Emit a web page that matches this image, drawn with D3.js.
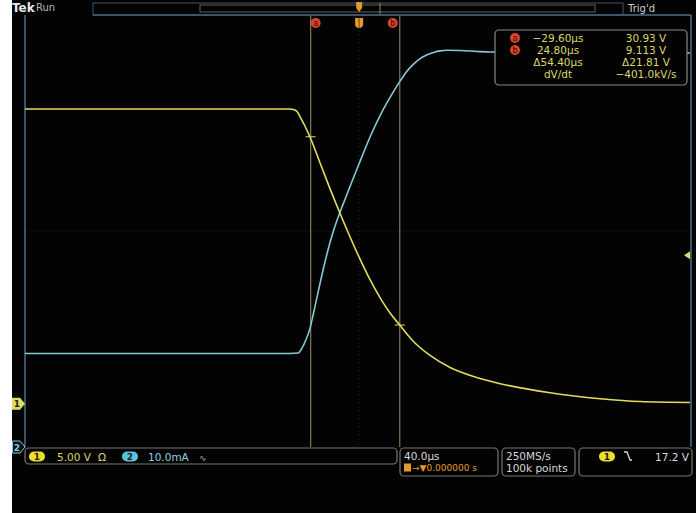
<!DOCTYPE html>
<html><head><meta charset="utf-8">
<script src="https://cdn.jsdelivr.net/npm/d3@7"></script>
<style>
html,body{margin:0;padding:0;background:#fff;}
svg{display:block;}
text{font-family:"DejaVu Sans",sans-serif;}
</style></head>
<body>
<svg id="c" width="696" height="513"></svg>
<script>
// ---- data ----
// Channel 1 (yellow, volts) vs time (µs)
const ch1Time = [-204, -42.2, -40.2, -37.9, -36.1, -33.1, -30.0, -23.9, -17.8, -11.7, -5.6, 0.55, 6.65, 12.76, 18.86, 24.8, 32.9, 43.3, 55.5, 70.8, 86.1, 116.6, 147.2, 171.6, 202];
const ch1Volts = [34.14, 34.14, 34.1, 33.86, 33.26, 32.18, 30.9, 27.93, 24.92, 22.07, 19.35, 16.75, 14.37, 12.29, 10.5, 9.11, 7.27, 5.59, 4.2, 3.1, 2.32, 1.27, 0.58, 0.25, 0.14];
// Channel 2 (cyan, mA) vs time (µs)
const ch2Time = [-204, -42.2, -37.3, -34.9, -32.4, -30.0, -28.1, -25.9, -23.9, -21.9, -19.6, -17.8, -14.7, -11.7, -8.0, -4.3, -0.7, 4.6, 8.5, 12.8, 16.4, 20.7, 25.0, 28.6, 32.9, 37.2, 41.5, 45.8, 49.4, 53.7, 61.6, 72.0, 79.9, 202];
const ch2mA = [21.67, 21.67, 21.78, 22.9, 24.9, 27.5, 30.6, 34.4, 37.9, 41.2, 44.8, 47.4, 51.2, 54.4, 58.0, 61.6, 65.0, 70.0, 73.4, 76.8, 79.4, 82.2, 84.8, 86.8, 88.6, 90.0, 90.9, 91.5, 91.8, 91.94, 91.89, 91.66, 91.54, 91.31];
// cursors (µs)
const cursorTimes = [-29.6, 24.8];
const cursorNames = ["a", "b"];
const cursorVolts = [30.93, 9.113];
const triggerLevel = 17.2;
// readout texts
const readLeft = ["\u221229.60\u00b5s", "24.80\u00b5s", "\u039454.40\u00b5s", "dV/dt"];
const readRight = ["30.93 V", "9.113 V", "\u039421.81 V", "\u2212401.0kV/s"];
const ch1Label = "5.00 V", ch2Label = "10.0mA";
const horizLabel = "40.0\u00b5s", delayLabel = "0.000000 s";
const rateLabels = ["250MS/s", "100k points"];
const trigLabel = "17.2 V";

// ---- scales ----
const x = d3.scaleLinear().domain([-204, 202]).range([25, 690]);
const yV = d3.scaleLinear().domain([0, 50]).range([403.7, 403.7 - 431.5]);
const yI = d3.scaleLinear().domain([0, 100]).range([447, 447 - 431.5]);

const svg = d3.select("#c");
const YEL = "#e2dc5e", CYAN = "#86c9d6", FRAME = "#4f6f8c", CUR = "#7f7c55", TXT = "#d9d66a";

svg.append("rect").attr("x", 0).attr("y", 0).attr("width", 696).attr("height", 513).attr("fill", "#fff");
svg.append("rect").attr("x", 12).attr("y", 0).attr("width", 684).attr("height", 513).attr("fill", "#030303");

// faint graticule centre lines
const gx0 = 25, gx1 = 691, gy0 = 15, gy1 = 447;
svg.append("line").attr("x1", gx0).attr("x2", gx1).attr("y1", 231).attr("y2", 231)
  .attr("stroke", "#2a2a22").attr("stroke-dasharray", "1,3");
svg.append("line").attr("x1", x(0)).attr("x2", x(0)).attr("y1", gy0).attr("y2", gy1)
  .attr("stroke", "#2a2a22").attr("stroke-dasharray", "1,3");

// frame
svg.append("line").attr("x1", 93).attr("x2", gx1).attr("y1", gy0).attr("y2", gy0).attr("stroke", FRAME).attr("stroke-width", 1.5);
svg.append("line").attr("x1", gx0).attr("x2", gx0).attr("y1", gy0).attr("y2", gy1).attr("stroke", FRAME).attr("stroke-width", 1.5);
svg.append("line").attr("x1", gx1).attr("x2", gx1).attr("y1", gy0).attr("y2", gy1).attr("stroke", FRAME).attr("stroke-width", 1.5);

// top bar
svg.append("text").attr("x", 12).attr("y", 12).attr("fill", "#e8e8e8").attr("font-weight", "bold").attr("font-size", 12).text("Tek");
svg.append("text").attr("x", 36).attr("y", 11).attr("fill", "#b8b8b8").attr("font-size", 10).text("Run");
svg.append("rect").attr("x", 93).attr("y", 3).attr("width", 530).attr("height", 12).attr("fill", "none").attr("stroke", "#3e5870");
svg.append("rect").attr("x", 200).attr("y", 5).attr("width", 395).attr("height", 7).attr("fill", "none").attr("stroke", "#66654a");
svg.append("line").attr("x1", 380).attr("x2", 380).attr("y1", 3).attr("y2", 14).attr("stroke", "#8a875a");
svg.append("text").attr("x", 628).attr("y", 12).attr("fill", "#d0d0d0").attr("font-size", 10).text("Trig'd");
// trigger position markers
svg.append("path").attr("d", `M${x(0)-3},2 h6 v6 l-3,4 l-3,-4 z`).attr("fill", "#e39a2a");
svg.append("path").attr("d", `M${x(0)-4},18 h8 v6 a4,4 0 0 1 -8,0 z`).attr("fill", "#e39a2a");
svg.append("line").attr("x1", x(0)).attr("x2", x(0)).attr("y1", 18).attr("y2", 28).attr("stroke", "#6a4a10");

// cursors
cursorTimes.forEach((t, i) => {
  svg.append("line").attr("x1", x(t)).attr("x2", x(t)).attr("y1", 16).attr("y2", gy1).attr("stroke", CUR).attr("stroke-width", 1.2);
  const cx = i === 0 ? x(t) + 5 : x(t) - 7;
  svg.append("circle").attr("cx", cx).attr("cy", 23).attr("r", 5).attr("fill", "#d8452a");
  svg.append("text").attr("x", cx).attr("y", 26).attr("text-anchor", "middle").attr("font-size", 8).attr("fill", "#3a0a00").text(cursorNames[i]);
});

// waveforms
const line1 = d3.line().x((d, i) => x(ch1Time[i])).y((d) => yV(d)).curve(d3.curveMonotoneX);
const line2 = d3.line().x((d, i) => x(ch2Time[i])).y((d) => yI(d)).curve(d3.curveMonotoneX);
svg.append("path").attr("d", line2(ch2mA)).attr("fill", "none").attr("stroke", CYAN).attr("stroke-width", 1.6);
svg.append("path").attr("d", line1(ch1Volts)).attr("fill", "none").attr("stroke", YEL).attr("stroke-width", 1.6);

// cursor crossing ticks on ch1
cursorVolts.forEach((v, i) => {
  const cx = x(cursorTimes[i]), cy = yV(v);
  svg.append("line").attr("x1", cx - 5).attr("x2", cx + 5).attr("y1", cy).attr("y2", cy).attr("stroke", YEL).attr("stroke-width", 1);
});

// readout box
svg.append("rect").attr("x", 495).attr("y", 30).attr("width", 192).attr("height", 55).attr("rx", 4)
  .attr("fill", "#030303").attr("stroke", "#8a8a80").attr("stroke-width", 1.2);
readLeft.forEach((s, i) => {
  const yy = 42 + i * 12;
  svg.append("text").attr("x", 558).attr("y", yy).attr("text-anchor", "middle").attr("font-size", 10.5).attr("fill", TXT).text(s);
  svg.append("text").attr("x", 646).attr("y", yy).attr("text-anchor", "middle").attr("font-size", 10.5).attr("fill", TXT).text(readRight[i]);
  if (i < 2) {
    svg.append("circle").attr("cx", 515).attr("cy", yy - 4).attr("r", 5).attr("fill", "#d8452a");
    svg.append("text").attr("x", 515).attr("y", yy - 1).attr("text-anchor", "middle").attr("font-size", 8).attr("fill", "#3a0a00").text(cursorNames[i]);
  }
});

// trigger level marker (right)
svg.append("path").attr("d", `M${gx1-7},${yV(triggerLevel)} l6,-4 v8 z`).attr("fill", YEL);

// channel ground markers (left)
svg.append("path").attr("d", `M12,${yV(0)-6} h8 l5,6 l-5,6 h-8 z`).attr("fill", YEL);
svg.append("text").attr("x", 17).attr("y", yV(0) + 3.5).attr("text-anchor", "middle").attr("font-size", 9).attr("font-weight", "bold").attr("fill", "#222").text("1");
svg.append("path").attr("d", `M12.5,${yI(0)-6} h7.5 l5,6 l-5,6 h-7.5 z`).attr("fill", "#0a1418").attr("stroke", CYAN).attr("stroke-width", 1);
svg.append("text").attr("x", 17).attr("y", yI(0) + 3.5).attr("text-anchor", "middle").attr("font-size", 9).attr("font-weight", "bold").attr("fill", CYAN).text("2");

// bottom status bar
function box(x0, y0, w, h) {
  svg.append("rect").attr("x", x0).attr("y", y0).attr("width", w).attr("height", h).attr("rx", 4)
    .attr("fill", "#030303").attr("stroke", "#77776e").attr("stroke-width", 1.2);
}
box(25, 448, 372, 16);
box(400, 448, 98, 28);
box(502, 448, 73, 28);
box(579, 448, 113, 28);

function pill(cx, cy, col, lab) {
  svg.append("rect").attr("x", cx - 8).attr("y", cy - 5).attr("width", 16).attr("height", 10).attr("rx", 5).attr("fill", col);
  svg.append("text").attr("x", cx).attr("y", cy + 3.5).attr("text-anchor", "middle").attr("font-size", 9).attr("font-weight", "bold").attr("fill", "#222").text(lab);
}
pill(37, 456.5, "#ecdf2a", "1");
svg.append("text").attr("x", 57).attr("y", 460.5).attr("font-size", 10.5).attr("fill", TXT).text(ch1Label);
svg.append("text").attr("x", 98).attr("y", 460.5).attr("font-size", 10.5).attr("fill", TXT).text("\u03a9");
pill(130, 456.5, "#5cc3dc", "2");
svg.append("text").attr("x", 148).attr("y", 460.5).attr("font-size", 10.5).attr("fill", "#8fd0dc").text(ch2Label);
svg.append("text").attr("x", 199).attr("y", 460.5).attr("font-size", 9).attr("fill", "#8fb0b8").text("\u223f");

svg.append("text").attr("x", 404).attr("y", 460).attr("font-size", 10.5).attr("fill", "#d8d8d8").text(horizLabel);
svg.append("rect").attr("x", 404).attr("y", 463.5).attr("width", 7).attr("height", 8).attr("fill", "#e39a2a");
svg.append("text").attr("x", 412).attr("y", 471).attr("font-size", 9).attr("fill", "#e39a2a").text("\u2192\u25bc" + delayLabel);

svg.append("text").attr("x", 506).attr("y", 460).attr("font-size", 10.5).attr("fill", "#d8d8d8").text(rateLabels[0]);
svg.append("text").attr("x", 506).attr("y", 471.5).attr("font-size", 10.5).attr("fill", "#d8d8d8").text(rateLabels[1]);

pill(607, 456.5, "#ecdf2a", "1");
svg.append("path").attr("d", "M624,452 h3 l3,8 h2").attr("fill", "none").attr("stroke", "#d8d8d8").attr("stroke-width", 1.3);
svg.append("text").attr("x", 689).attr("y", 460.5).attr("text-anchor", "end").attr("font-size", 10.5).attr("fill", "#d8d8d8").text(trigLabel);
</script>
</body></html>
